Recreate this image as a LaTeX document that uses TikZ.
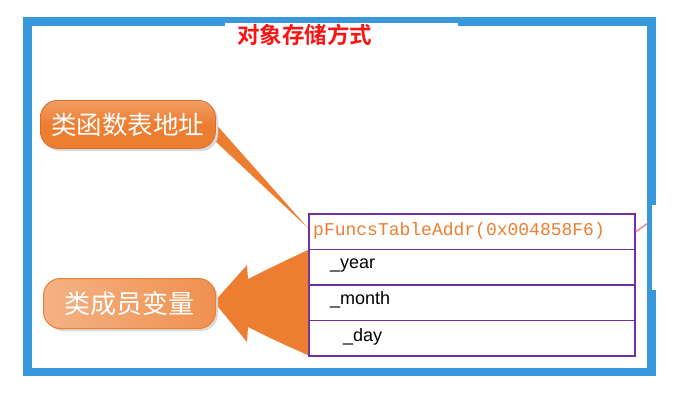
\documentclass[tikz,border=0pt]{standalone}
\usepackage{fontspec}
\newfontfamily\cjk{Noto Sans CJK SC}
\newfontfamily\cjkb{Noto Sans CJK SC Bold}
\newfontfamily\monof{Liberation Mono}
\newfontfamily\sansf{Liberation Sans}
\definecolor{frameblue}{RGB}{55,152,219}
\definecolor{ora}{RGB}{237,125,49}
\definecolor{oralight}{RGB}{244,178,132}
\definecolor{tabpurple}{RGB}{112,48,160}
\definecolor{pinkline}{RGB}{228,110,160}
\definecolor{titlered}{RGB}{250,20,20}
\begin{document}
\begin{tikzpicture}[x=1pt,y=-1pt,
  rowbox/.style={draw=tabpurple,line width=1.6pt,minimum width=326pt,minimum height=35.5pt,anchor=north west,inner sep=0pt},
  rowtext/.style={anchor=west,inner sep=0pt,font=\sansf\fontsize{18}{18}\selectfont},
  callout/.style={rounded corners=17pt,inner sep=0pt,anchor=north west,text=white}
]
\useasboundingbox (0,0) rectangle (696,408);
% frame
\draw[frameblue,line width=8.5pt] (27.3,21.6) rectangle (651.7,371.9);
\fill[white] (225,23.4) rectangle (458,27);
\fill[white] (652.2,205) rectangle (657,290);
% title
\node[inner sep=0pt,text=titlered,font=\cjkb\fontsize{22.5}{22.5}\selectfont] (title) at (304.5,35) {对象存储方式};
% table rows
\node[rowbox] (r1) at (308,213) {};
\node[rowbox] (r2) at (308,248.5) {};
\node[rowbox] (r3) at (308,284) {};
\node[rowbox] (r4) at (308,319.5) {};
\node[anchor=west,inner sep=0pt,text=ora,font=\monof\fontsize{18}{18}\selectfont] (t1) at (313,231) {pFuncsTableAddr(0x004858F6)};
\node[rowtext] (t2) at (330,265.5) {\_year};
\node[rowtext] (t3) at (330,300) {\_month};
\node[rowtext] (t4) at (343,336.5) {\_day};
% pink connector fragment
\coordinate (pk) at (648,223);
\draw[pinkline,line width=1.2pt] (r1.east |- 0,232) -- (pk);
% callout 1 tail
\fill[ora] (206,113) -- (r1.north west |- 0,228) -- (214,140) -- cycle;
% callout 1
\fill[gray!30] (43,103) [rounded corners=17pt] rectangle (218,151);
\node[callout,minimum width=175pt,minimum height=48pt,draw=ora!90!black,line width=0.8pt,
      top color=ora!75!white,bottom color=ora,middle color=ora,
      font=\cjk\fontsize{25.5}{25.5}\selectfont] (c1) at (40,100) {类函数表地址};
% callout 2 arrow
\fill[ora] (308,250) .. controls (282,262) and (262,272) .. (248,279) -- (247,265) -- (214,302)
  -- (247,342) -- (248,327) .. controls (262,334) and (282,344) .. (308,355) -- cycle;
% callout 2
\fill[gray!30] (46,281) [rounded corners=17pt] rectangle (218,331);
\node[callout,minimum width=172pt,minimum height=50pt,draw=ora,line width=1pt,
      left color=oralight,right color=ora!85!white,
      font=\cjk\fontsize{26}{26}\selectfont] (c2) at (43,278) {类成员变量};
\end{tikzpicture}
\end{document}
